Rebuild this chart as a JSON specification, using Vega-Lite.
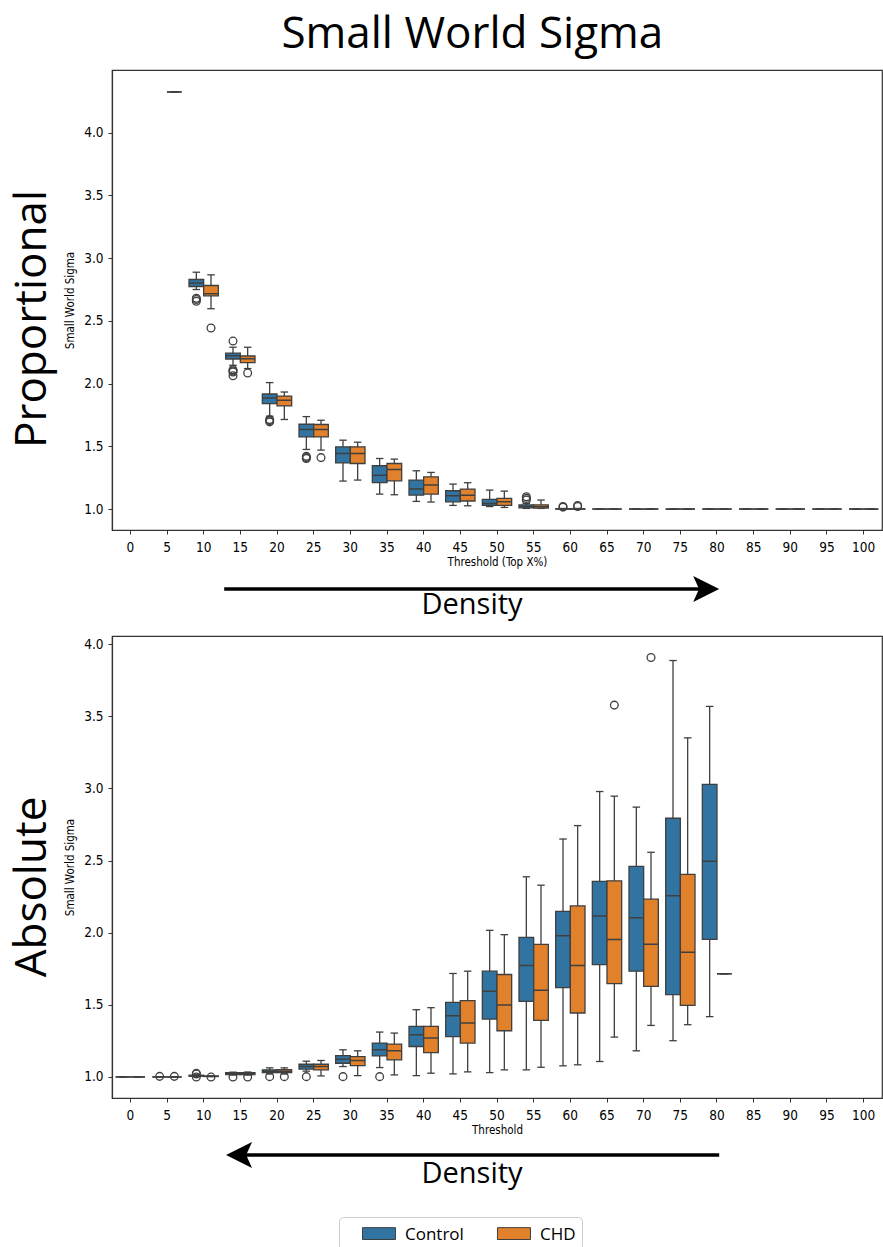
{
  "$schema": "https://vega.github.io/schema/vega-lite/v6.json",
  "padding": {"left": 10, "top": 13, "right": 0, "bottom": 0},
  "background": "white",
  "config": {
    "view": {"stroke": "#333333", "strokeWidth": 1.2},
    "font": "Open Sans",
    "axis": {
      "labelFont": "DejaVu Sans Condensed, DejaVu Sans",
      "titleFont": "DejaVu Sans Condensed, DejaVu Sans",
      "labelFontSize": 13.5,
      "titleFontSize": 11.5,
      "titleFontWeight": "normal",
      "labelColor": "#000000",
      "titleColor": "#000000",
      "domainColor": "#333333",
      "domainWidth": 1.2,
      "tickColor": "#333333",
      "tickSize": 4,
      "tickWidth": 1,
      "grid": false
    },
    "axisX": {"labelPadding": 6, "titlePadding": 3},
    "axisY": {"labelPadding": 5, "titlePadding": 8},
    "title": {"font": "Open Sans", "fontWeight": "normal", "color": "#000000"}
  },
  "title": {"text": "Small World Sigma", "fontSize": 44, "anchor": "middle", "offset": 12, "dx": 26},
  "datasets": {
    "boxes": [
      {"panel": "P", "threshold": 5, "group": "CHD", "lower": 4.325, "q1": 4.325, "median": 4.325, "q3": 4.325, "upper": 4.325},
      {"panel": "P", "threshold": 10, "group": "Control", "lower": 2.75, "q1": 2.774, "median": 2.802, "q3": 2.83, "upper": 2.888},
      {"panel": "P", "threshold": 10, "group": "CHD", "lower": 2.597, "q1": 2.7, "median": 2.716, "q3": 2.782, "upper": 2.867},
      {"panel": "P", "threshold": 15, "group": "Control", "lower": 2.146, "q1": 2.196, "median": 2.222, "q3": 2.243, "upper": 2.29},
      {"panel": "P", "threshold": 15, "group": "CHD", "lower": 2.12, "q1": 2.167, "median": 2.199, "q3": 2.22, "upper": 2.29},
      {"panel": "P", "threshold": 20, "group": "Control", "lower": 1.74, "q1": 1.84, "median": 1.885, "q3": 1.917, "upper": 2.008},
      {"panel": "P", "threshold": 20, "group": "CHD", "lower": 1.714, "q1": 1.822, "median": 1.867, "q3": 1.901, "upper": 1.933},
      {"panel": "P", "threshold": 25, "group": "Control", "lower": 1.475, "q1": 1.575, "median": 1.634, "q3": 1.676, "upper": 1.737},
      {"panel": "P", "threshold": 25, "group": "CHD", "lower": 1.47, "q1": 1.575, "median": 1.634, "q3": 1.674, "upper": 1.708},
      {"panel": "P", "threshold": 30, "group": "Control", "lower": 1.223, "q1": 1.368, "median": 1.443, "q3": 1.496, "upper": 1.549},
      {"panel": "P", "threshold": 30, "group": "CHD", "lower": 1.231, "q1": 1.363, "median": 1.443, "q3": 1.496, "upper": 1.533},
      {"panel": "P", "threshold": 35, "group": "Control", "lower": 1.119, "q1": 1.21, "median": 1.27, "q3": 1.345, "upper": 1.403},
      {"panel": "P", "threshold": 35, "group": "CHD", "lower": 1.114, "q1": 1.225, "median": 1.316, "q3": 1.363, "upper": 1.398},
      {"panel": "P", "threshold": 40, "group": "Control", "lower": 1.061, "q1": 1.111, "median": 1.159, "q3": 1.231, "upper": 1.305},
      {"panel": "P", "threshold": 40, "group": "CHD", "lower": 1.056, "q1": 1.119, "median": 1.191, "q3": 1.257, "upper": 1.292},
      {"panel": "P", "threshold": 45, "group": "Control", "lower": 1.029, "q1": 1.058, "median": 1.106, "q3": 1.146, "upper": 1.199},
      {"panel": "P", "threshold": 45, "group": "CHD", "lower": 1.026, "q1": 1.064, "median": 1.111, "q3": 1.159, "upper": 1.21},
      {"panel": "P", "threshold": 50, "group": "Control", "lower": 1.02, "q1": 1.029, "median": 1.045, "q3": 1.077, "upper": 1.151},
      {"panel": "P", "threshold": 50, "group": "CHD", "lower": 1.013, "q1": 1.029, "median": 1.058, "q3": 1.085, "upper": 1.143},
      {"panel": "P", "threshold": 55, "group": "Control", "lower": 1.005, "q1": 1.01, "median": 1.02, "q3": 1.034, "upper": 1.045},
      {"panel": "P", "threshold": 55, "group": "CHD", "lower": 1.005, "q1": 1.008, "median": 1.018, "q3": 1.034, "upper": 1.072},
      {"panel": "P", "threshold": 60, "group": "Control", "lower": 1.0, "q1": 1.0, "median": 1.0, "q3": 1.002, "upper": 1.005},
      {"panel": "P", "threshold": 60, "group": "CHD", "lower": 1.0, "q1": 1.0, "median": 1.0, "q3": 1.002, "upper": 1.005},
      {"panel": "P", "threshold": 65, "group": "Control", "lower": 1.0, "q1": 1.0, "median": 1.0, "q3": 1.0, "upper": 1.0},
      {"panel": "P", "threshold": 65, "group": "CHD", "lower": 1.0, "q1": 1.0, "median": 1.0, "q3": 1.0, "upper": 1.0},
      {"panel": "P", "threshold": 70, "group": "Control", "lower": 1.0, "q1": 1.0, "median": 1.0, "q3": 1.0, "upper": 1.0},
      {"panel": "P", "threshold": 70, "group": "CHD", "lower": 1.0, "q1": 1.0, "median": 1.0, "q3": 1.0, "upper": 1.0},
      {"panel": "P", "threshold": 75, "group": "Control", "lower": 1.0, "q1": 1.0, "median": 1.0, "q3": 1.0, "upper": 1.0},
      {"panel": "P", "threshold": 75, "group": "CHD", "lower": 1.0, "q1": 1.0, "median": 1.0, "q3": 1.0, "upper": 1.0},
      {"panel": "P", "threshold": 80, "group": "Control", "lower": 1.0, "q1": 1.0, "median": 1.0, "q3": 1.0, "upper": 1.0},
      {"panel": "P", "threshold": 80, "group": "CHD", "lower": 1.0, "q1": 1.0, "median": 1.0, "q3": 1.0, "upper": 1.0},
      {"panel": "P", "threshold": 85, "group": "Control", "lower": 1.0, "q1": 1.0, "median": 1.0, "q3": 1.0, "upper": 1.0},
      {"panel": "P", "threshold": 85, "group": "CHD", "lower": 1.0, "q1": 1.0, "median": 1.0, "q3": 1.0, "upper": 1.0},
      {"panel": "P", "threshold": 90, "group": "Control", "lower": 1.0, "q1": 1.0, "median": 1.0, "q3": 1.0, "upper": 1.0},
      {"panel": "P", "threshold": 90, "group": "CHD", "lower": 1.0, "q1": 1.0, "median": 1.0, "q3": 1.0, "upper": 1.0},
      {"panel": "P", "threshold": 95, "group": "Control", "lower": 1.0, "q1": 1.0, "median": 1.0, "q3": 1.0, "upper": 1.0},
      {"panel": "P", "threshold": 95, "group": "CHD", "lower": 1.0, "q1": 1.0, "median": 1.0, "q3": 1.0, "upper": 1.0},
      {"panel": "P", "threshold": 100, "group": "Control", "lower": 1.0, "q1": 1.0, "median": 1.0, "q3": 1.0, "upper": 1.0},
      {"panel": "P", "threshold": 100, "group": "CHD", "lower": 1.0, "q1": 1.0, "median": 1.0, "q3": 1.0, "upper": 1.0},
      {"panel": "A", "threshold": 0, "group": "Control", "lower": 1.0, "q1": 1.0, "median": 1.0, "q3": 1.0, "upper": 1.0},
      {"panel": "A", "threshold": 0, "group": "CHD", "lower": 1.0, "q1": 1.0, "median": 1.0, "q3": 1.0, "upper": 1.0},
      {"panel": "A", "threshold": 5, "group": "Control", "lower": 1.0, "q1": 1.0, "median": 1.0, "q3": 1.0, "upper": 1.0},
      {"panel": "A", "threshold": 5, "group": "CHD", "lower": 1.0, "q1": 1.0, "median": 1.0, "q3": 1.0, "upper": 1.0},
      {"panel": "A", "threshold": 10, "group": "Control", "lower": 1.003, "q1": 1.005, "median": 1.008, "q3": 1.012, "upper": 1.015},
      {"panel": "A", "threshold": 10, "group": "CHD", "lower": 1.002, "q1": 1.003, "median": 1.004, "q3": 1.006, "upper": 1.008},
      {"panel": "A", "threshold": 15, "group": "Control", "lower": 1.013, "q1": 1.016, "median": 1.022, "q3": 1.03, "upper": 1.033},
      {"panel": "A", "threshold": 15, "group": "CHD", "lower": 1.013, "q1": 1.017, "median": 1.023, "q3": 1.03, "upper": 1.034},
      {"panel": "A", "threshold": 20, "group": "Control", "lower": 1.02, "q1": 1.03, "median": 1.04, "q3": 1.049, "upper": 1.063},
      {"panel": "A", "threshold": 20, "group": "CHD", "lower": 1.02, "q1": 1.03, "median": 1.04, "q3": 1.05, "upper": 1.063},
      {"panel": "A", "threshold": 25, "group": "Control", "lower": 1.04, "q1": 1.054, "median": 1.072, "q3": 1.088, "upper": 1.109},
      {"panel": "A", "threshold": 25, "group": "CHD", "lower": 1.007, "q1": 1.049, "median": 1.072, "q3": 1.088, "upper": 1.114},
      {"panel": "A", "threshold": 30, "group": "Control", "lower": 1.072, "q1": 1.095, "median": 1.123, "q3": 1.148, "upper": 1.188},
      {"panel": "A", "threshold": 30, "group": "CHD", "lower": 1.009, "q1": 1.079, "median": 1.114, "q3": 1.141, "upper": 1.181},
      {"panel": "A", "threshold": 35, "group": "Control", "lower": 1.065, "q1": 1.146, "median": 1.188, "q3": 1.235, "upper": 1.311},
      {"panel": "A", "threshold": 35, "group": "CHD", "lower": 1.014, "q1": 1.118, "median": 1.181, "q3": 1.228, "upper": 1.304},
      {"panel": "A", "threshold": 40, "group": "Control", "lower": 1.009, "q1": 1.211, "median": 1.292, "q3": 1.35, "upper": 1.466},
      {"panel": "A", "threshold": 40, "group": "CHD", "lower": 1.026, "q1": 1.169, "median": 1.269, "q3": 1.35, "upper": 1.48},
      {"panel": "A", "threshold": 45, "group": "Control", "lower": 1.021, "q1": 1.28, "median": 1.424, "q3": 1.517, "upper": 1.717},
      {"panel": "A", "threshold": 45, "group": "CHD", "lower": 1.035, "q1": 1.235, "median": 1.374, "q3": 1.529, "upper": 1.733},
      {"panel": "A", "threshold": 50, "group": "Control", "lower": 1.03, "q1": 1.401, "median": 1.594, "q3": 1.733, "upper": 2.016},
      {"panel": "A", "threshold": 50, "group": "CHD", "lower": 1.049, "q1": 1.32, "median": 1.499, "q3": 1.71, "upper": 1.986},
      {"panel": "A", "threshold": 55, "group": "Control", "lower": 1.049, "q1": 1.524, "median": 1.772, "q3": 1.967, "upper": 2.387},
      {"panel": "A", "threshold": 55, "group": "CHD", "lower": 1.067, "q1": 1.392, "median": 1.601, "q3": 1.919, "upper": 2.329},
      {"panel": "A", "threshold": 60, "group": "Control", "lower": 1.077, "q1": 1.619, "median": 1.979, "q3": 2.148, "upper": 2.649},
      {"panel": "A", "threshold": 60, "group": "CHD", "lower": 1.084, "q1": 1.443, "median": 1.772, "q3": 2.185, "upper": 2.742},
      {"panel": "A", "threshold": 65, "group": "Control", "lower": 1.107, "q1": 1.779, "median": 2.116, "q3": 2.355, "upper": 2.978},
      {"panel": "A", "threshold": 65, "group": "CHD", "lower": 1.276, "q1": 1.647, "median": 1.953, "q3": 2.359, "upper": 2.946},
      {"panel": "A", "threshold": 70, "group": "Control", "lower": 1.181, "q1": 1.733, "median": 2.104, "q3": 2.459, "upper": 2.87},
      {"panel": "A", "threshold": 70, "group": "CHD", "lower": 1.357, "q1": 1.628, "median": 1.919, "q3": 2.232, "upper": 2.557},
      {"panel": "A", "threshold": 75, "group": "Control", "lower": 1.251, "q1": 1.571, "median": 2.255, "q3": 2.793, "upper": 3.886},
      {"panel": "A", "threshold": 75, "group": "CHD", "lower": 1.362, "q1": 1.496, "median": 1.865, "q3": 2.404, "upper": 3.35},
      {"panel": "A", "threshold": 80, "group": "Control", "lower": 1.418, "q1": 1.953, "median": 2.494, "q3": 3.027, "upper": 3.568},
      {"panel": "A", "threshold": 80, "group": "CHD", "lower": 1.715, "q1": 1.715, "median": 1.715, "q3": 1.715, "upper": 1.715}
    ],
    "outliers": [
      {"panel": "P", "threshold": 10, "group": "Control", "value": 2.68},
      {"panel": "P", "threshold": 10, "group": "Control", "value": 2.67},
      {"panel": "P", "threshold": 10, "group": "Control", "value": 2.657},
      {"panel": "P", "threshold": 10, "group": "CHD", "value": 2.443},
      {"panel": "P", "threshold": 15, "group": "Control", "value": 2.339},
      {"panel": "P", "threshold": 15, "group": "Control", "value": 2.11},
      {"panel": "P", "threshold": 15, "group": "Control", "value": 2.1},
      {"panel": "P", "threshold": 15, "group": "Control", "value": 2.092},
      {"panel": "P", "threshold": 15, "group": "Control", "value": 2.063},
      {"panel": "P", "threshold": 15, "group": "CHD", "value": 2.084},
      {"panel": "P", "threshold": 20, "group": "Control", "value": 1.714},
      {"panel": "P", "threshold": 20, "group": "Control", "value": 1.705},
      {"panel": "P", "threshold": 20, "group": "Control", "value": 1.695},
      {"panel": "P", "threshold": 25, "group": "Control", "value": 1.42},
      {"panel": "P", "threshold": 25, "group": "Control", "value": 1.41},
      {"panel": "P", "threshold": 25, "group": "Control", "value": 1.403},
      {"panel": "P", "threshold": 25, "group": "CHD", "value": 1.41},
      {"panel": "P", "threshold": 55, "group": "Control", "value": 1.098},
      {"panel": "P", "threshold": 55, "group": "Control", "value": 1.085},
      {"panel": "P", "threshold": 55, "group": "Control", "value": 1.072},
      {"panel": "P", "threshold": 60, "group": "Control", "value": 1.015},
      {"panel": "P", "threshold": 60, "group": "Control", "value": 1.02},
      {"panel": "P", "threshold": 60, "group": "CHD", "value": 1.02},
      {"panel": "P", "threshold": 60, "group": "CHD", "value": 1.028},
      {"panel": "A", "threshold": 5, "group": "Control", "value": 1.004},
      {"panel": "A", "threshold": 5, "group": "CHD", "value": 1.004},
      {"panel": "A", "threshold": 10, "group": "Control", "value": 1.025},
      {"panel": "A", "threshold": 10, "group": "Control", "value": 1.02},
      {"panel": "A", "threshold": 10, "group": "Control", "value": 1.0},
      {"panel": "A", "threshold": 10, "group": "CHD", "value": 0.999},
      {"panel": "A", "threshold": 15, "group": "Control", "value": 1.0},
      {"panel": "A", "threshold": 15, "group": "CHD", "value": 1.0},
      {"panel": "A", "threshold": 20, "group": "Control", "value": 1.002},
      {"panel": "A", "threshold": 20, "group": "CHD", "value": 1.002},
      {"panel": "A", "threshold": 25, "group": "Control", "value": 1.002},
      {"panel": "A", "threshold": 30, "group": "Control", "value": 1.002},
      {"panel": "A", "threshold": 35, "group": "Control", "value": 1.002},
      {"panel": "A", "threshold": 65, "group": "CHD", "value": 3.577},
      {"panel": "A", "threshold": 70, "group": "CHD", "value": 3.907}
    ],
    "notes": [{"label": "Density"}]
  },
  "spacing": 0,
  "resolve": {"scale": {"color": "shared"}, "legend": {"color": "shared"}},
  "vconcat": [
    {
      "width": 770,
      "height": 460,
      "title": {"text": "Proportional", "orient": "left", "anchor": "middle", "fontSize": 44, "offset": 10, "dx": -19},
      "encoding": {
        "x": {"field": "threshold", "type": "ordinal", "scale": {"domain": [0, 5, 10, 15, 20, 25, 30, 35, 40, 45, 50, 55, 60, 65, 70, 75, 80, 85, 90, 95, 100], "paddingInner": 0.2, "paddingOuter": 0.1}, "axis": {"labelAngle": 0, "title": "Threshold (Top X%)"}},
        "xOffset": {"field": "group", "type": "nominal", "scale": {"domain": ["Control", "CHD"], "paddingInner": 0, "paddingOuter": 0}}
      },
      "layer": [
        {
          "data": {"name": "boxes"},
          "transform": [{"filter": "datum.panel === 'P'"}],
          "mark": {"type": "rule", "color": "#3f3f3f", "strokeWidth": 1.3},
          "encoding": {
            "y": {"field": "lower", "type": "quantitative", "title": "Small World Sigma", "scale": {"domain": [0.833, 4.5], "nice": false, "zero": false}, "axis": {"values": [1, 1.5, 2, 2.5, 3, 3.5, 4], "format": ".1f"}},
            "y2": {"field": "upper"}
          }
        },
        {
          "data": {"name": "boxes"},
          "transform": [{"filter": "datum.panel === 'P'"}],
          "mark": {"type": "tick", "orient": "horizontal", "color": "#3f3f3f", "size": 7.5, "thickness": 1.3, "opacity": 1},
          "encoding": {"y": {"field": "lower", "type": "quantitative", "title": "Small World Sigma"}}
        },
        {
          "data": {"name": "boxes"},
          "transform": [{"filter": "datum.panel === 'P'"}],
          "mark": {"type": "tick", "orient": "horizontal", "color": "#3f3f3f", "size": 7.5, "thickness": 1.3, "opacity": 1},
          "encoding": {"y": {"field": "upper", "type": "quantitative", "title": "Small World Sigma"}}
        },
        {
          "data": {"name": "boxes"},
          "transform": [{"filter": "datum.panel === 'P'"}],
          "mark": {"type": "bar", "stroke": "#3f3f3f", "strokeWidth": 1.3, "opacity": 1},
          "encoding": {
            "y": {"field": "q1", "type": "quantitative", "title": "Small World Sigma"},
            "y2": {"field": "q3"},
            "color": {"field": "group", "type": "nominal", "scale": {"domain": ["Control", "CHD"], "range": ["#3274a1", "#e1812c"]}, "legend": {"orient": "none", "legendX": 227, "legendY": 1147, "direction": "horizontal", "title": null, "symbolType": "M0.03,-0.75H2.03V-0.03H0.03Z", "symbolSize": 1089, "symbolStrokeColor": "#3f3f3f", "symbolStrokeWidth": 1, "symbolOpacity": 1, "labelFont": "Open Sans", "labelFontSize": 17, "labelColor": "#000000", "labelBaseline": "alphabetic", "labelOffset": 26, "strokeColor": "#cccccc", "cornerRadius": 4, "padding": 6, "columnPadding": 16}}
          }
        },
        {
          "data": {"name": "boxes"},
          "transform": [{"filter": "datum.panel === 'P'"}],
          "mark": {"type": "bar", "filled": false, "color": "#3f3f3f", "strokeWidth": 1.5, "opacity": 1},
          "encoding": {
            "y": {"field": "median", "type": "quantitative", "title": "Small World Sigma"},
            "y2": {"field": "median"}
          }
        },
        {
          "data": {"name": "outliers"},
          "transform": [{"filter": "datum.panel === 'P'"}],
          "mark": {"type": "point", "shape": "circle", "filled": false, "size": 60, "color": "#3f3f3f", "strokeWidth": 1.3, "opacity": 1},
          "encoding": {"y": {"field": "value", "type": "quantitative", "title": "Small World Sigma"}}
        }
      ]
    },
    {
      "width": 770,
      "height": 66,
      "view": {"stroke": null},
      "data": {"name": "notes"},
      "layer": [
        {
          "mark": {"type": "rule", "color": "#000000", "strokeWidth": 3.5},
          "encoding": {
            "x": {"datum": 12.8, "type": "quantitative", "scale": {"domain": [-2.5, 102.5], "nice": false, "zero": false}, "axis": null},
            "x2": {"datum": 78.5},
            "y": {"datum": 0.697, "type": "quantitative", "scale": {"domain": [0, 1]}, "axis": null}
          }
        },
        {
          "mark": {"type": "point", "shape": "M0,0L-2,-1L-1.55,0L-2,1Z", "filled": true, "color": "#000000", "size": 676, "opacity": 1},
          "encoding": {
            "x": {"datum": 80.3, "type": "quantitative"},
            "y": {"datum": 0.697, "type": "quantitative"}
          }
        },
        {
          "mark": {"type": "text", "font": "Open Sans", "fontSize": 29, "baseline": "alphabetic", "color": "#000000"},
          "encoding": {
            "x": {"datum": 46.6, "type": "quantitative"},
            "y": {"datum": 0.318, "type": "quantitative"},
            "text": {"field": "label"}
          }
        }
      ]
    },
    {
      "width": 770,
      "height": 462,
      "title": {"text": "Absolute", "orient": "left", "anchor": "middle", "fontSize": 44, "offset": 10, "dx": -20},
      "encoding": {
        "x": {"field": "threshold", "type": "ordinal", "scale": {"domain": [0, 5, 10, 15, 20, 25, 30, 35, 40, 45, 50, 55, 60, 65, 70, 75, 80, 85, 90, 95, 100], "paddingInner": 0.2, "paddingOuter": 0.1}, "axis": {"labelAngle": 0, "title": "Threshold"}},
        "xOffset": {"field": "group", "type": "nominal", "scale": {"domain": ["Control", "CHD"], "paddingInner": 0, "paddingOuter": 0}}
      },
      "layer": [
        {
          "data": {"name": "boxes"},
          "transform": [{"filter": "datum.panel === 'A'"}],
          "mark": {"type": "rule", "color": "#3f3f3f", "strokeWidth": 1.3},
          "encoding": {
            "y": {"field": "lower", "type": "quantitative", "title": "Small World Sigma", "scale": {"domain": [0.854, 4.056], "nice": false, "zero": false}, "axis": {"values": [1, 1.5, 2, 2.5, 3, 3.5, 4], "format": ".1f"}},
            "y2": {"field": "upper"}
          }
        },
        {
          "data": {"name": "boxes"},
          "transform": [{"filter": "datum.panel === 'A'"}],
          "mark": {"type": "tick", "orient": "horizontal", "color": "#3f3f3f", "size": 7.5, "thickness": 1.3, "opacity": 1},
          "encoding": {"y": {"field": "lower", "type": "quantitative", "title": "Small World Sigma"}}
        },
        {
          "data": {"name": "boxes"},
          "transform": [{"filter": "datum.panel === 'A'"}],
          "mark": {"type": "tick", "orient": "horizontal", "color": "#3f3f3f", "size": 7.5, "thickness": 1.3, "opacity": 1},
          "encoding": {"y": {"field": "upper", "type": "quantitative", "title": "Small World Sigma"}}
        },
        {
          "data": {"name": "boxes"},
          "transform": [{"filter": "datum.panel === 'A'"}],
          "mark": {"type": "bar", "stroke": "#3f3f3f", "strokeWidth": 1.3, "opacity": 1},
          "encoding": {
            "y": {"field": "q1", "type": "quantitative", "title": "Small World Sigma"},
            "y2": {"field": "q3"},
            "color": {"field": "group", "type": "nominal", "scale": {"domain": ["Control", "CHD"], "range": ["#3274a1", "#e1812c"]}}
          }
        },
        {
          "data": {"name": "boxes"},
          "transform": [{"filter": "datum.panel === 'A'"}],
          "mark": {"type": "bar", "filled": false, "color": "#3f3f3f", "strokeWidth": 1.5, "opacity": 1},
          "encoding": {
            "y": {"field": "median", "type": "quantitative", "title": "Small World Sigma"},
            "y2": {"field": "median"}
          }
        },
        {
          "data": {"name": "outliers"},
          "transform": [{"filter": "datum.panel === 'A'"}],
          "mark": {"type": "point", "shape": "circle", "filled": false, "size": 60, "color": "#3f3f3f", "strokeWidth": 1.3, "opacity": 1},
          "encoding": {"y": {"field": "value", "type": "quantitative", "title": "Small World Sigma"}}
        }
      ]
    },
    {
      "width": 770,
      "height": 60,
      "view": {"stroke": null},
      "data": {"name": "notes"},
      "layer": [
        {
          "mark": {"type": "rule", "color": "#000000", "strokeWidth": 3.5},
          "encoding": {
            "x": {"datum": 15.5, "type": "quantitative", "scale": {"domain": [-2.5, 102.5], "nice": false, "zero": false}, "axis": null},
            "x2": {"datum": 80.3},
            "y": {"datum": 0.7, "type": "quantitative", "scale": {"domain": [0, 1]}, "axis": null}
          }
        },
        {
          "mark": {"type": "point", "shape": "M0,0L2,-1L1.55,0L2,1Z", "filled": true, "color": "#000000", "size": 676, "opacity": 1},
          "encoding": {
            "x": {"datum": 13.05, "type": "quantitative"},
            "y": {"datum": 0.7, "type": "quantitative"}
          }
        },
        {
          "mark": {"type": "text", "font": "Open Sans", "fontSize": 29, "baseline": "alphabetic", "color": "#000000"},
          "encoding": {
            "x": {"datum": 46.6, "type": "quantitative"},
            "y": {"datum": 0.233, "type": "quantitative"},
            "text": {"field": "label"}
          }
        }
      ]
    }
  ]
}
